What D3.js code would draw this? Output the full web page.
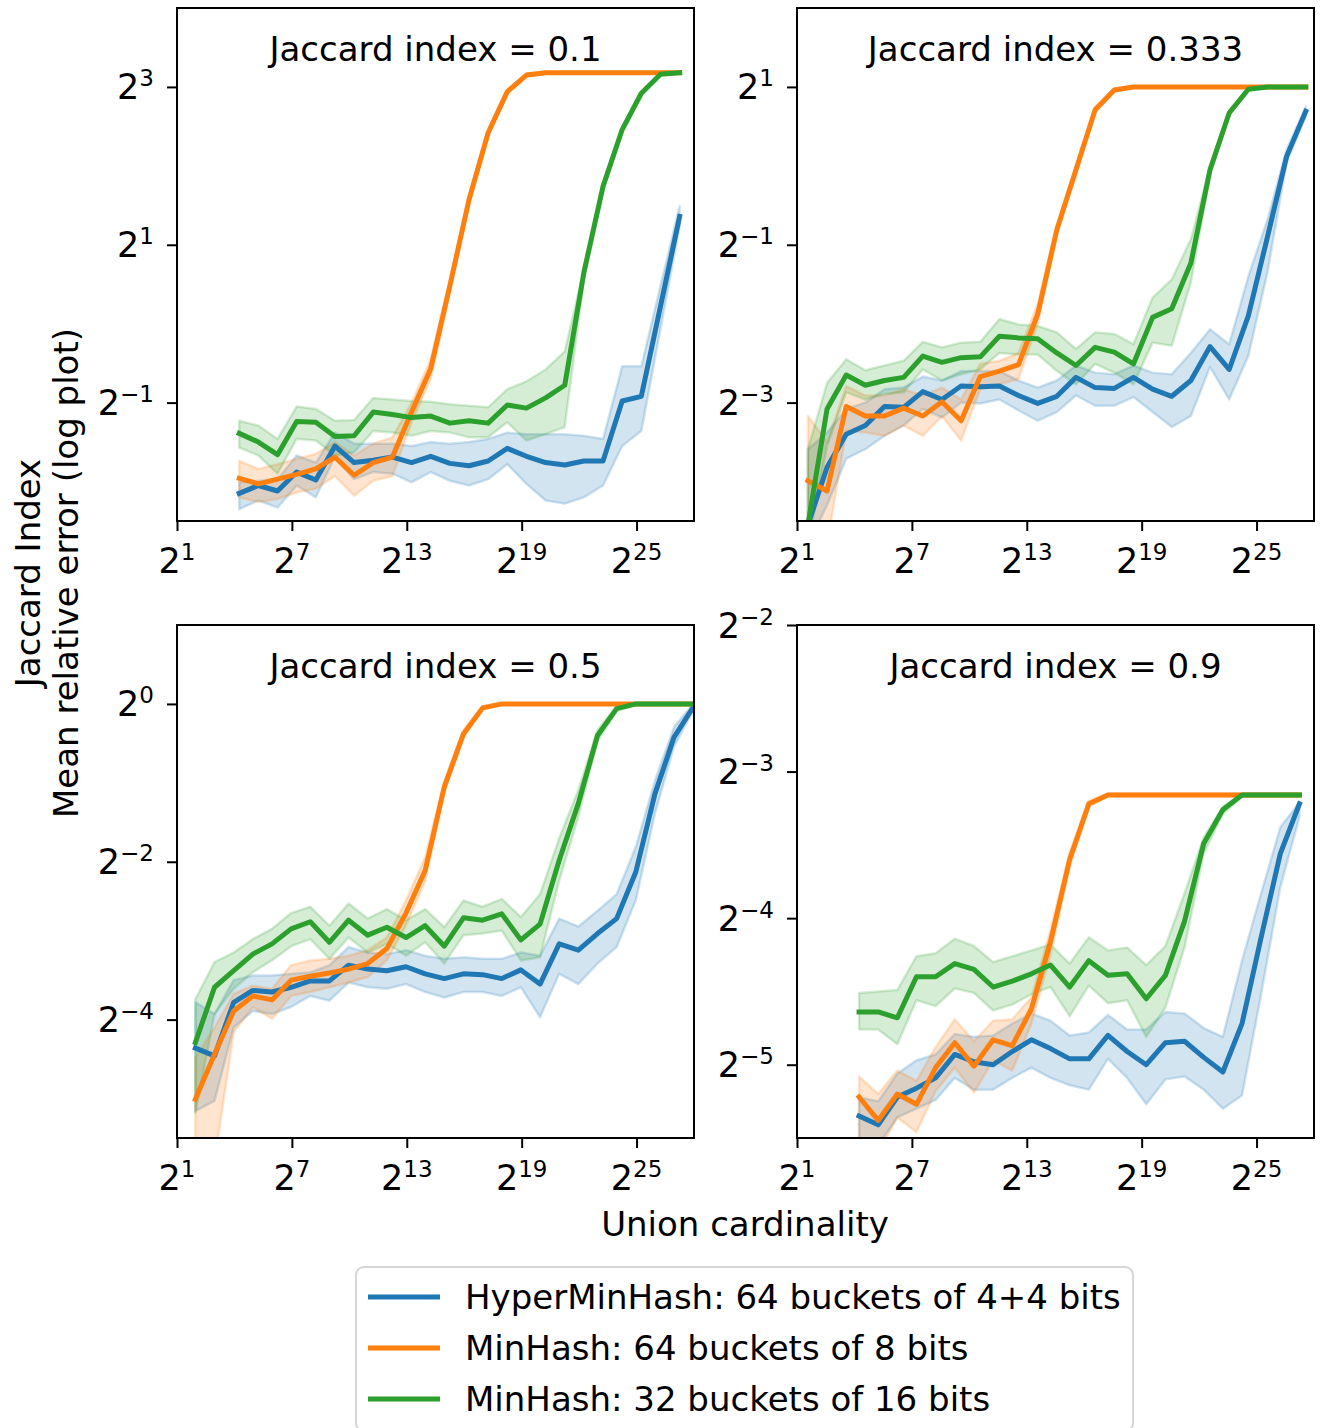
<!DOCTYPE html>
<html><head><meta charset="utf-8">
<script src="https://cdn.jsdelivr.net/npm/d3@7"></script>
<style>body{margin:0;background:#fff}svg text{font-family:"DejaVu Sans",sans-serif;fill:#000}</style>
</head><body><svg id="c" width="1320" height="1428"></svg>
<script>
// ---- data (values are log2 of the plotted quantity) ----
const seriesNames = ["HyperMinHash: 64 buckets of 4+4 bits","MinHash: 64 buckets of 8 bits","MinHash: 32 buckets of 16 bits"];
const seriesColors = ["#1f77b4","#ff7f0e","#2ca02c"];
const panelTitles = ["Jaccard index = 0.1","Jaccard index = 0.333","Jaccard index = 0.5","Jaccard index = 0.9"];
const xTickExps = [1,7,13,19,25];
const yTickExps = [[3,1,-1],[1,-1,-3],[0,-2,-4],[-2,-3,-4,-5]];
const yDomains = [[-2.5,4],[-4.5,2],[-5.5,1],[-5.5,-2]];

const j01_x = [4.25,5.25,6.25,7.25,8.25,9.25,10.25,11.25,12.25,13.25,14.25,15.25,16.25,17.25,18.25,19.25,20.25,21.25,22.25,23.25,24.25,25.25,26.25,27.25];
const j01_hmh = [-2.15,-2.05,-2.12,-1.88,-1.98,-1.55,-1.76,-1.73,-1.69,-1.76,-1.68,-1.77,-1.80,-1.74,-1.58,-1.68,-1.76,-1.79,-1.74,-1.74,-0.98,-0.92,0.22,1.36];
const j01_hmh_hi = [-2.01,-1.99,-1.97,-1.67,-1.76,-1.38,-1.52,-1.52,-1.52,-1.55,-1.50,-1.52,-1.50,-1.46,-1.38,-1.40,-1.40,-1.40,-1.42,-1.46,-0.54,-0.54,0.48,1.49];
const j01_hmh_lo = [-2.35,-2.24,-2.33,-2.05,-2.20,-1.69,-1.97,-1.88,-1.90,-2.01,-1.88,-1.99,-2.05,-1.97,-1.78,-2.03,-2.24,-2.28,-2.20,-2.05,-1.55,-1.36,-0.07,1.23];
const j01_mh8 = [-1.96,-2.03,-1.97,-1.91,-1.84,-1.69,-1.92,-1.76,-1.69,-1.12,-0.57,0.48,1.57,2.42,2.94,3.15,3.18,3.18,3.18,3.18,3.18,3.18,3.18,3.18];
const j01_mh8_hi = [-1.74,-1.84,-1.78,-1.71,-1.65,-1.50,-1.67,-1.52,-1.44,-1.00,-0.45,0.55,1.62,2.46,2.96,3.17,3.19,3.19,3.19,3.19,3.19,3.19,3.19,3.19];
const j01_mh8_lo = [-2.20,-2.26,-2.22,-2.14,-2.09,-1.93,-2.18,-1.99,-1.93,-1.25,-0.70,0.40,1.52,2.38,2.92,3.13,3.17,3.17,3.17,3.17,3.17,3.17,3.17,3.17];
const j01_mh16 = [-1.39,-1.50,-1.66,-1.24,-1.25,-1.43,-1.42,-1.12,-1.15,-1.19,-1.17,-1.26,-1.23,-1.26,-1.03,-1.07,-0.94,-0.78,0.65,1.74,2.46,2.92,3.16,3.18];
const j01_mh16_hi = [-1.23,-1.29,-1.46,-1.05,-1.08,-1.23,-1.22,-0.94,-0.96,-0.98,-0.99,-1.02,-1.04,-1.06,-0.83,-0.73,-0.58,-0.35,0.69,1.78,2.49,2.94,3.17,3.19];
const j01_mh16_lo = [-1.57,-1.67,-1.90,-1.46,-1.48,-1.67,-1.63,-1.36,-1.38,-1.42,-1.36,-1.38,-1.44,-1.44,-1.25,-1.48,-1.40,-1.31,0.56,1.70,2.43,2.90,3.15,3.17];

const j03_x = [1.57,2.57,3.57,4.57,5.57,6.57,7.57,8.57,9.57,10.57,11.57,12.57,13.57,14.57,15.57,16.57,17.57,18.57,19.57,20.57,21.57,22.57,23.57,24.57,25.57,26.57,27.57];
const j03_hmh = [-4.55,-3.82,-3.40,-3.29,-3.05,-3.06,-2.86,-2.96,-2.79,-2.80,-2.79,-2.91,-3.01,-2.92,-2.68,-2.81,-2.82,-2.68,-2.83,-2.92,-2.72,-2.29,-2.58,-1.90,-0.90,0.12,0.69];
const j03_hmh_hi = [-3.59,-3.38,-3.08,-3.00,-2.83,-2.81,-2.67,-2.72,-2.60,-2.60,-2.60,-2.72,-2.81,-2.72,-2.53,-2.62,-2.64,-2.53,-2.62,-2.64,-2.37,-2.07,-2.26,-1.40,-0.68,0.21,0.75];
const j03_hmh_lo = [-4.8,-4.3,-3.71,-3.59,-3.42,-3.29,-3.08,-3.19,-3.00,-3.01,-2.96,-3.10,-3.23,-3.12,-2.91,-3.04,-3.04,-2.93,-3.12,-3.31,-3.17,-2.55,-2.96,-2.41,-1.35,0.04,0.63];
const j03_mh8 = [-3.99,-4.12,-3.05,-3.17,-3.17,-3.07,-3.17,-2.99,-3.23,-2.67,-2.60,-2.52,-1.88,-0.81,-0.05,0.71,0.96,1.0,1.0,1.0,1.0,1.0,1.0,1.0,1.0,1.0,1.0];
const j03_mh8_hi = [-3.17,-3.50,-2.79,-2.91,-2.91,-2.83,-2.91,-2.81,-2.96,-2.51,-2.47,-2.37,-1.75,-0.75,0.0,0.74,0.98,1.01,1.01,1.01,1.01,1.01,1.01,1.01,1.01,1.01,1.01];
const j03_mh8_lo = [-4.8,-4.8,-3.36,-3.38,-3.42,-3.29,-3.42,-3.17,-3.48,-2.83,-2.77,-2.70,-2.0,-0.87,-0.10,0.68,0.94,0.99,0.99,0.99,0.99,0.99,0.99,0.99,0.99,0.99,0.99];
const j03_mh16 = [-4.55,-3.08,-2.65,-2.78,-2.72,-2.68,-2.41,-2.49,-2.43,-2.42,-2.16,-2.18,-2.19,-2.37,-2.53,-2.30,-2.36,-2.51,-1.92,-1.81,-1.23,-0.05,0.67,0.97,1.0,1.0,1.0];
const j03_mh16_hi = [-3.59,-2.75,-2.45,-2.59,-2.53,-2.47,-2.23,-2.30,-2.24,-2.23,-1.94,-2.01,-2.03,-2.11,-2.32,-2.11,-2.13,-2.26,-1.67,-1.44,-0.93,0.0,0.70,0.98,1.01,1.01,1.01];
const j03_mh16_lo = [-4.8,-3.55,-2.87,-2.96,-2.89,-2.87,-2.58,-2.72,-2.64,-2.58,-2.37,-2.39,-2.39,-2.60,-2.77,-2.51,-2.62,-2.77,-2.24,-2.28,-1.48,-0.12,0.64,0.96,0.99,0.99,0.99];

const j05_x = [1.96,2.96,3.96,4.96,5.96,6.96,7.96,8.96,9.96,10.96,11.96,12.96,13.96,14.96,15.96,16.96,17.96,18.96,19.96,20.96,21.96,22.96,23.96,24.96,25.96,26.96,27.96];
const j05_hmh = [-4.36,-4.46,-3.78,-3.63,-3.65,-3.59,-3.51,-3.51,-3.31,-3.36,-3.38,-3.33,-3.42,-3.48,-3.42,-3.43,-3.48,-3.37,-3.55,-3.04,-3.12,-2.91,-2.72,-2.13,-1.14,-0.42,-0.04];
const j05_hmh_hi = [-3.78,-3.93,-3.50,-3.44,-3.44,-3.42,-3.40,-3.31,-3.08,-3.15,-3.17,-3.12,-3.19,-3.23,-3.21,-3.23,-3.23,-3.15,-3.19,-2.72,-2.82,-2.62,-2.41,-1.81,-0.97,-0.29,0.0];
const j05_hmh_lo = [-5.16,-5.03,-4.10,-3.89,-3.93,-3.84,-3.70,-3.76,-3.53,-3.59,-3.61,-3.55,-3.65,-3.72,-3.65,-3.65,-3.70,-3.59,-3.97,-3.42,-3.55,-3.29,-3.08,-2.49,-1.39,-0.54,-0.08];
const j05_mh8 = [-5.01,-4.44,-3.89,-3.70,-3.75,-3.50,-3.45,-3.41,-3.36,-3.29,-3.10,-2.65,-2.11,-1.05,-0.38,-0.05,0,0,0,0,0,0,0,0,0,0,0];
const j05_mh8_hi = [-4.48,-4.10,-3.67,-3.57,-3.61,-3.31,-3.25,-3.23,-3.19,-3.12,-2.96,-2.49,-1.94,-0.98,-0.33,-0.03,0.01,0.01,0.01,0.01,0.01,0.01,0.01,0.01,0.01,0.01,0.01];
const j05_mh8_lo = [-5.8,-5.8,-4.16,-3.84,-3.99,-3.70,-3.65,-3.59,-3.53,-3.46,-3.25,-2.80,-2.25,-1.12,-0.42,-0.07,-0.01,-0.01,-0.01,-0.01,-0.01,-0.01,-0.01,-0.01,-0.01,-0.01,-0.01];
const j05_mh16 = [-4.29,-3.59,-3.38,-3.17,-3.04,-2.85,-2.76,-3.02,-2.74,-2.93,-2.83,-2.96,-2.81,-3.07,-2.71,-2.74,-2.66,-2.99,-2.79,-1.98,-1.26,-0.40,-0.06,0,0,0,0];
const j05_mh16_hi = [-3.74,-3.27,-3.15,-2.98,-2.85,-2.65,-2.57,-2.81,-2.53,-2.72,-2.60,-2.74,-2.60,-2.83,-2.49,-2.57,-2.47,-2.70,-2.41,-1.70,-1.09,-0.33,-0.03,0.01,0.01,0.01,0.01];
const j05_mh16_lo = [-5.18,-3.93,-3.61,-3.40,-3.25,-3.07,-2.98,-3.23,-2.96,-3.15,-3.04,-3.19,-3.02,-3.29,-2.93,-2.91,-2.87,-3.25,-3.21,-2.24,-1.43,-0.47,-0.09,-0.01,-0.01,-0.01,-0.01];

const j09_x = [4.24,5.24,6.24,7.24,8.24,9.24,10.24,11.24,12.24,13.24,14.24,15.24,16.24,17.24,18.24,19.24,20.24,21.24,22.24,23.24,24.24,25.24,26.24,27.24];
const j09_hmh = [-5.35,-5.41,-5.22,-5.16,-5.09,-4.93,-4.98,-5.00,-4.91,-4.83,-4.89,-4.96,-4.96,-4.80,-4.91,-5.00,-4.85,-4.84,-4.95,-5.05,-4.72,-4.13,-3.56,-3.22];
const j09_hmh_hi = [-5.22,-5.25,-5.06,-4.97,-4.93,-4.79,-4.81,-4.80,-4.72,-4.65,-4.70,-4.80,-4.78,-4.66,-4.76,-4.76,-4.64,-4.65,-4.75,-4.81,-4.29,-3.83,-3.38,-3.21];
const j09_hmh_lo = [-5.6,-5.55,-5.36,-5.30,-5.24,-5.09,-5.17,-5.17,-5.09,-5.02,-5.09,-5.14,-5.17,-4.96,-5.09,-5.27,-5.10,-5.08,-5.17,-5.30,-5.21,-4.52,-3.79,-3.31];
const j09_mh8 = [-5.22,-5.38,-5.20,-5.27,-5.02,-4.85,-5.01,-4.83,-4.87,-4.62,-4.16,-3.60,-3.22,-3.16,-3.16,-3.16,-3.16,-3.16,-3.16,-3.16,-3.16,-3.16,-3.16,-3.16];
const j09_mh8_hi = [-5.08,-5.20,-5.04,-5.11,-4.88,-4.69,-4.84,-4.70,-4.69,-4.54,-4.08,-3.55,-3.20,-3.15,-3.15,-3.15,-3.15,-3.15,-3.15,-3.15,-3.15,-3.15,-3.15,-3.15];
const j09_mh8_lo = [-5.6,-5.6,-5.36,-5.46,-5.18,-5.02,-5.19,-4.97,-5.04,-4.72,-4.25,-3.65,-3.24,-3.17,-3.17,-3.17,-3.17,-3.17,-3.17,-3.17,-3.17,-3.17,-3.17,-3.17];
const j09_mh16 = [-4.64,-4.64,-4.68,-4.40,-4.40,-4.31,-4.35,-4.47,-4.43,-4.38,-4.32,-4.47,-4.29,-4.39,-4.38,-4.55,-4.39,-4.02,-3.49,-3.26,-3.16,-3.16,-3.16,-3.16];
const j09_mh16_hi = [-4.51,-4.50,-4.49,-4.26,-4.24,-4.14,-4.19,-4.30,-4.26,-4.22,-4.18,-4.31,-4.13,-4.22,-4.20,-4.32,-4.19,-3.83,-3.45,-3.24,-3.15,-3.15,-3.15,-3.15];
const j09_mh16_lo = [-4.76,-4.76,-4.86,-4.56,-4.60,-4.48,-4.51,-4.63,-4.59,-4.52,-4.47,-4.67,-4.46,-4.58,-4.56,-4.81,-4.61,-4.20,-3.56,-3.29,-3.17,-3.17,-3.17,-3.17];

// ---- assemble ----
const panelData = [
  {x:j01_x, s:[[j01_hmh,j01_hmh_lo,j01_hmh_hi],[j01_mh8,j01_mh8_lo,j01_mh8_hi],[j01_mh16,j01_mh16_lo,j01_mh16_hi]]},
  {x:j03_x, s:[[j03_hmh,j03_hmh_lo,j03_hmh_hi],[j03_mh8,j03_mh8_lo,j03_mh8_hi],[j03_mh16,j03_mh16_lo,j03_mh16_hi]]},
  {x:j05_x, s:[[j05_hmh,j05_hmh_lo,j05_hmh_hi],[j05_mh8,j05_mh8_lo,j05_mh8_hi],[j05_mh16,j05_mh16_lo,j05_mh16_hi]]},
  {x:j09_x, s:[[j09_hmh,j09_hmh_lo,j09_hmh_hi],[j09_mh8,j09_mh8_lo,j09_mh8_hi],[j09_mh16,j09_mh16_lo,j09_mh16_hi]]}
];

const svg = d3.select("#c");
const lefts = [177,797], tops = [8,625];
const PW = 517, PH = 513;
const FS = 34, TFS = 35, SFS = 23;

function supLabel(sel, e){
  sel.append("tspan").text("2");
  sel.append("tspan").attr("font-size",SFS).attr("dy",-13).text(e<0 ? "\u2212"+(-e) : String(e));
}

panelData.forEach((pd,pi)=>{
  const L = lefts[pi%2], T = tops[Math.floor(pi/2)];
  const x = d3.scaleLog().base(2).domain([2**1,2**28]).range([L,L+PW]);
  const y = d3.scaleLog().base(2).domain([2**yDomains[pi][0],2**yDomains[pi][1]]).range([T+PH,T]);
  const g = svg.append("g");
  const cid = "clip"+pi;
  svg.append("clipPath").attr("id",cid).append("rect").attr("x",L).attr("y",T).attr("width",PW).attr("height",PH);
  const plot = g.append("g").attr("clip-path",`url(#${cid})`);

  const pts = pd.s.map(([m,lo,hi]) => pd.x.map((xv,i)=>({x:2**xv, m:2**m[i], lo:2**lo[i], hi:2**hi[i]})));
  const area = d3.area().x(d=>x(d.x)).y0(d=>y(d.lo)).y1(d=>y(d.hi));
  const line = d3.line().x(d=>x(d.x)).y(d=>y(d.m));
  pts.forEach((p,si)=>{
    plot.append("path").attr("d",area(p)).attr("fill",seriesColors[si]).attr("fill-opacity",0.2)
      .attr("stroke",seriesColors[si]).attr("stroke-opacity",0.2).attr("stroke-width",2.5).attr("stroke-linejoin","round");
  });
  pts.forEach((p,si)=>{
    plot.append("path").attr("d",line(p)).attr("fill","none").attr("stroke",seriesColors[si])
      .attr("stroke-width",5).attr("stroke-linejoin","round").attr("stroke-linecap","square");
  });

  // axes
  const xa = d3.axisBottom(x).tickValues(xTickExps.map(e=>2**e)).tickSize(10).tickFormat(()=> "");
  const ya = d3.axisLeft(y).tickValues(yTickExps[pi].map(e=>2**e)).tickSize(10).tickFormat(()=> "");
  const gx = g.append("g").attr("transform",`translate(0,${T+PH})`).call(xa);
  const gy = g.append("g").attr("transform",`translate(${L},0)`).call(ya);
  [gx,gy].forEach(a=>{a.select(".domain").remove(); a.selectAll("line").attr("stroke","#000").attr("stroke-width",2);});
  xTickExps.forEach(e=>{
    const t = g.append("text").attr("x",x(2**e)).attr("y",T+PH+52).attr("text-anchor","middle").attr("font-size",TFS);
    supLabel(t,e);
  });
  yTickExps[pi].forEach(e=>{
    const t = g.append("text").attr("x",L-23).attr("y",y(2**e)+12.5).attr("text-anchor","end").attr("font-size",TFS);
    supLabel(t,e);
  });
  g.append("rect").attr("x",L).attr("y",T).attr("width",PW).attr("height",PH)
    .attr("fill","none").attr("stroke","#000").attr("stroke-width",2);
  g.append("text").attr("x",L+PW/2).attr("y",T+53).attr("text-anchor","middle").attr("font-size",FS).text(panelTitles[pi]);
});

// axis labels
svg.append("text").attr("x",745).attr("y",1236).attr("text-anchor","middle").attr("font-size",FS).text("Union cardinality");
const yl = svg.append("g").attr("transform","translate(0,573)");
yl.append("text").attr("transform","translate(40,0) rotate(-90)").attr("text-anchor","middle").attr("font-size",FS).text("Jaccard Index");
yl.append("text").attr("transform","translate(78,0) rotate(-90)").attr("text-anchor","middle").attr("font-size",FS).text("Mean relative error (log plot)");

// legend
const lg = svg.append("g");
lg.append("rect").attr("x",356).attr("y",1267).attr("width",777).attr("height",164).attr("rx",8)
  .attr("fill","#fff").attr("fill-opacity",0.8).attr("stroke","#d6d6d6").attr("stroke-width",2);
seriesNames.forEach((n,i)=>{
  const cy = 1297 + i*51;
  lg.append("line").attr("x1",368).attr("x2",440).attr("y1",cy).attr("y2",cy).attr("stroke",seriesColors[i]).attr("stroke-width",5);
  lg.append("text").attr("x",465).attr("y",cy+12).attr("font-size",FS).text(n);
});
</script></body></html>
